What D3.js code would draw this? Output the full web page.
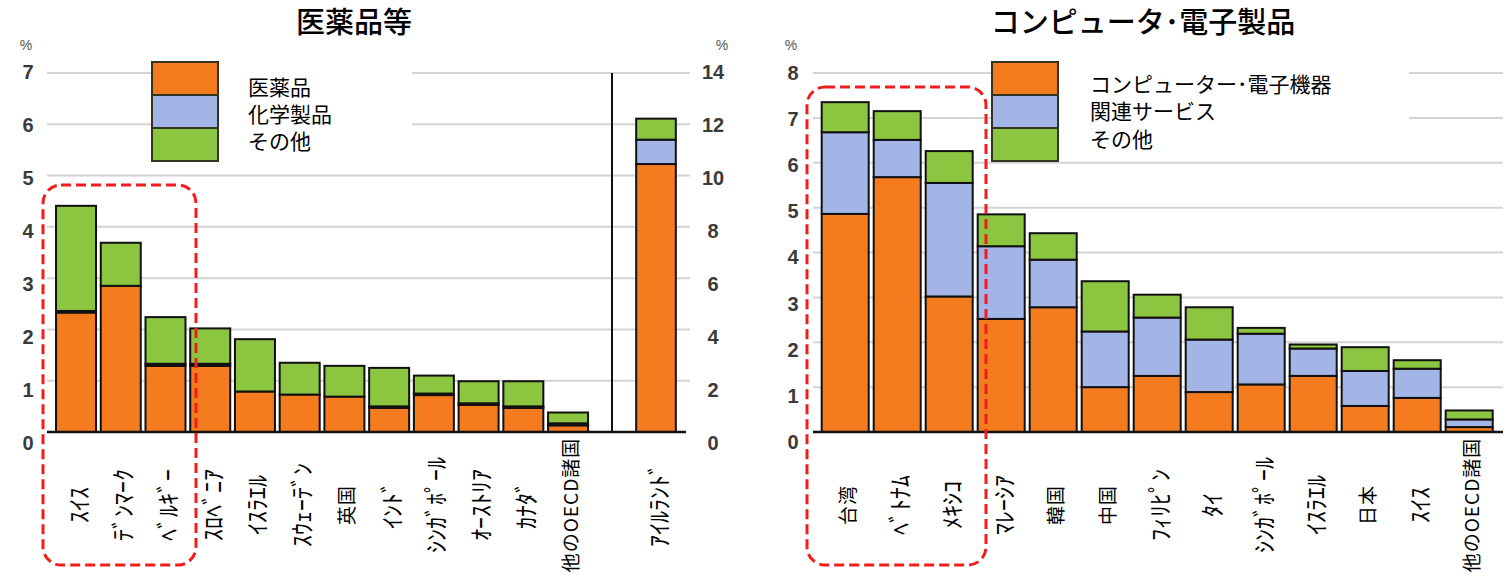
<!DOCTYPE html>
<html>
<head>
<meta charset="utf-8">
<script src="https://cdn.jsdelivr.net/npm/d3@7"></script>
<style>
  html, body { margin: 0; padding: 0; background: #fff; }
  svg { display: block; }
  .cjk { font-family: "Noto Sans CJK JP", "Noto Sans", sans-serif; }
  .num { font-family: "Liberation Sans", Arial, sans-serif; }
</style>
</head>
<body>
<svg id="chart" width="1510" height="577"></svg>
<script>
// ---- 医薬品等 (left panel, 0–7 % axis) ----
const pharmaCountries = ["ｽｲｽ", "ﾃﾞﾝﾏｰｸ", "ﾍﾞﾙｷﾞｰ", "ｽﾛﾍﾞﾆｱ", "ｲｽﾗｴﾙ", "ｽｳｪｰﾃﾞﾝ", "英国", "ｲﾝﾄﾞ", "ｼﾝｶﾞﾎﾟｰﾙ", "ｵｰｽﾄﾘｱ", "ｶﾅﾀﾞ", "他のOECD諸国"];
const pharmaDrugs    = [2.33, 2.85, 1.29, 1.29, 0.79, 0.73, 0.69, 0.47, 0.72, 0.53, 0.47, 0.13];
const pharmaChem     = [0.03, 0.00, 0.04, 0.04, 0.00, 0.00, 0.00, 0.03, 0.03, 0.03, 0.03, 0.04];
const pharmaOther    = [2.05, 0.84, 0.91, 0.69, 1.02, 0.62, 0.60, 0.75, 0.35, 0.43, 0.49, 0.21];

// Ireland, plotted against the secondary 0–14 % axis
const irelandCountry = ["ｱｲﾙﾗﾝﾄﾞ"];
const irelandDrugs   = [10.45];
const irelandChem    = [0.95];
const irelandOther   = [0.82];

const pharmaLegend = ["医薬品", "化学製品", "その他"];
const pharmaTicks  = [0, 1, 2, 3, 4, 5, 6, 7];
const irelandTicks = [0, 2, 4, 6, 8, 10, 12, 14];

// ---- コンピュータ･電子製品 (right panel, 0–8 % axis) ----
const elecCountries = ["台湾", "ﾍﾞﾄﾅﾑ", "ﾒｷｼｺ", "ﾏﾚｰｼｱ", "韓国", "中国", "ﾌｨﾘﾋﾟﾝ", "ﾀｲ", "ｼﾝｶﾞﾎﾟｰﾙ", "ｲｽﾗｴﾙ", "日本", "ｽｲｽ", "他のOECD諸国"];
const elecDevices   = [4.86, 5.68, 3.02, 2.52, 2.78, 1.00, 1.25, 0.89, 1.06, 1.25, 0.58, 0.76, 0.11];
const elecServices  = [1.82, 0.83, 2.53, 1.62, 1.06, 1.24, 1.30, 1.17, 1.13, 0.61, 0.78, 0.65, 0.17];
const elecOther     = [0.67, 0.64, 0.71, 0.71, 0.59, 1.12, 0.51, 0.72, 0.13, 0.09, 0.53, 0.19, 0.20];

const elecLegend = ["コンピューター･電子機器", "関連サービス", "その他"];
const elecTicks  = [0, 1, 2, 3, 4, 5, 6, 7, 8];

const titles = ["医薬品等", "コンピュータ･電子製品"];
const colors = ["#f57b1f", "#a2b5e6", "#8cc53f"];

const svg = d3.select("#chart");

// ---------- scales ----------
const yPharma   = d3.scaleLinear().domain([0, 7]).range([432, 73]);
const yIreland  = d3.scaleLinear().domain([0, 14]).range([432, 73]);
const yElec     = d3.scaleLinear().domain([0, 8]).range([432, 73]);

// tick labels are set on their own slightly taller label scale
const yPharmaLab  = d3.scaleLinear().domain([0, 7]).range([443, 72]);
const yIrelandLab = d3.scaleLinear().domain([0, 14]).range([443, 72]);
const yElecLab    = d3.scaleLinear().domain([0, 8]).range([442, 73]);

const xPharma = d3.scaleBand().domain(pharmaCountries).range([53.8, 590.3])
  .paddingInner(0.106).paddingOuter(0.05);
const xIreland = d3.scaleBand().domain(irelandCountry).range([614, 698])
  .paddingInner(0.106).paddingOuter(0.5);
const xElec = d3.scaleBand().domain(elecCountries).range([819.1, 1495.3])
  .paddingInner(0.096).paddingOuter(0.05);

// ---------- helpers ----------
function gridlines(y, ticks, x1, x2) {
  svg.append("g").selectAll("line")
    .data(ticks.filter(t => t > 0))
    .join("line")
    .attr("x1", x1).attr("x2", x2)
    .attr("y1", d => y(d)).attr("y2", d => y(d))
    .attr("stroke", "#d4d4d4").attr("stroke-width", 2);
}

function stackedBars(cats, s1, s2, s3, x, y) {
  const rows = cats.map((c, i) => ({ cat: c, a: s1[i], b: s2[i], c: s3[i] }));
  const layers = d3.stack().keys(["a", "b", "c"])(rows);
  const g = svg.append("g");
  layers.forEach((layer, li) => {
    g.append("g").selectAll("rect")
      .data(layer)
      .join("rect")
      .attr("x", d => x(d.data.cat))
      .attr("width", x.bandwidth())
      .attr("y", d => y(d[1]))
      .attr("height", d => Math.max(0, y(d[0]) - y(d[1])))
      .attr("fill", colors[li])
      .attr("stroke", "#111")
      .attr("stroke-width", 2);
  });
}

function axisLabels(scale, ticks, xPos) {
  const axis = d3.axisLeft(scale).tickValues(ticks).tickFormat(d3.format("d"))
    .tickSize(0).tickPadding(0);
  const g = svg.append("g").attr("transform", `translate(${xPos},0)`).call(axis);
  g.select(".domain").remove();
  g.selectAll("text")
    .attr("class", "num")
    .attr("text-anchor", "middle")
    .attr("x", 0)
    .style("font-size", "20px")
    .style("font-weight", "bold")
    .style("fill", "#3a3a3a");
}

function percent(x, y) {
  svg.append("text").attr("class", "num")
    .attr("x", x).attr("y", y)
    .attr("text-anchor", "middle")
    .style("font-size", "14px").style("fill", "#555")
    .text("%");
}

function legend(x0, y0, labels, textX, rows, boxW) {
  // white panel behind legend text
  svg.append("rect").attr("x", x0 + 67).attr("y", 58).attr("width", boxW).attr("height", 96)
    .attr("fill", "#fff");
  const h = 33;
  labels.forEach((lab, i) => {
    svg.append("rect")
      .attr("x", x0).attr("y", y0 + i * h)
      .attr("width", 66).attr("height", h)
      .attr("fill", colors[i])
      .attr("stroke", "#333322").attr("stroke-width", 2);
    svg.append("text").attr("class", "cjk")
      .attr("x", textX).attr("y", rows[i])
      .attr("dominant-baseline", "central")
      .style("font-size", "21px").style("fill", "#000")
      .text(lab);
  });
}

// labels that contain kanji are set smaller than the half-width kana ones
const hasKanji = s => /[\u4e00-\u9fff]/.test(s);

function xLabels(cats, x) {
  svg.append("g").selectAll("text")
    .data(cats)
    .join("text")
    .attr("class", "cjk")
    .attr("transform", d => `translate(${x(d) + x.bandwidth() / 2 + 1},505) rotate(-90)`)
    .attr("text-anchor", "middle")
    .attr("dominant-baseline", "central")
    .style("font-size", d => hasKanji(d) ? "19px" : "24px")
    .style("letter-spacing", d => hasKanji(d) ? "1px" : "0px")
    .style("fill", "#000")
    .text(d => d);
}

function dashedBox(x1, y1, x2, y2) {
  svg.append("rect")
    .attr("x", x1).attr("y", y1)
    .attr("width", x2 - x1).attr("height", y2 - y1)
    .attr("rx", 18).attr("ry", 18)
    .attr("fill", "none")
    .attr("stroke", "#f21c1c").attr("stroke-width", 3)
    .attr("stroke-dasharray", "10,5");
}

// ---------- left panel: 医薬品等 ----------
gridlines(yPharma, pharmaTicks, 47, 690);
legend(152, 62, pharmaLegend, 248, [86, 113, 140], 193);
stackedBars(pharmaCountries, pharmaDrugs, pharmaChem, pharmaOther, xPharma, yPharma);
stackedBars(irelandCountry, irelandDrugs, irelandChem, irelandOther, xIreland, yIreland);

svg.append("line").attr("x1", 47).attr("x2", 686)
  .attr("y1", yPharma(0)).attr("y2", yPharma(0))
  .attr("stroke", "#111").attr("stroke-width", 2.5);
svg.append("line").attr("x1", 612).attr("x2", 612)
  .attr("y1", yPharma(7)).attr("y2", yPharma(0))
  .attr("stroke", "#111").attr("stroke-width", 2);

axisLabels(yPharmaLab, pharmaTicks, 28);
axisLabels(yIrelandLab, irelandTicks, 713);
percent(26, 50);
percent(722, 50);

xLabels(pharmaCountries, xPharma);
xLabels(irelandCountry, xIreland);

svg.append("text").attr("class", "cjk")
  .attr("x", 354).attr("y", 20)
  .attr("text-anchor", "middle").attr("dominant-baseline", "central")
  .style("font-size", "29px").style("font-weight", 500)
  .text(titles[0]);

dashedBox(43, 185, 196, 565);

// ---------- right panel: コンピュータ･電子製品 ----------
gridlines(yElec, elecTicks, 813, 1503);
legend(992, 62, elecLegend, 1090, [83, 110, 138], 350);
stackedBars(elecCountries, elecDevices, elecServices, elecOther, xElec, yElec);

svg.append("line").attr("x1", 813).attr("x2", 1503)
  .attr("y1", yElec(0)).attr("y2", yElec(0))
  .attr("stroke", "#111").attr("stroke-width", 2.5);

axisLabels(yElecLab, elecTicks, 793);
percent(791, 50);

xLabels(elecCountries, xElec);

svg.append("text").attr("class", "cjk")
  .attr("x", 1143).attr("y", 20)
  .attr("text-anchor", "middle").attr("dominant-baseline", "central")
  .style("font-size", "29px").style("font-weight", 500)
  .text(titles[1]);

dashedBox(807, 87, 986, 565);
</script>
</body>
</html>
